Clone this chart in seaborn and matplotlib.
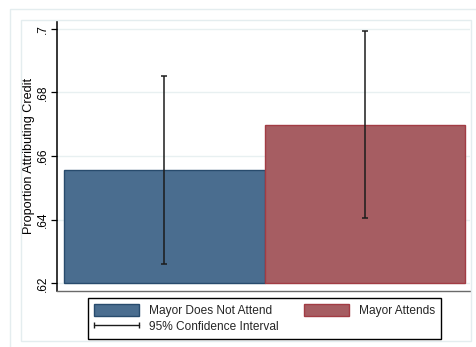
import matplotlib
matplotlib.use("Agg")
import matplotlib.pyplot as plt
from matplotlib.patches import Patch, Rectangle
from matplotlib.lines import Line2D
from matplotlib.legend_handler import HandlerLine2D
import seaborn as sns
import pandas as pd
import numpy as np

# Mean share of respondents attributing credit, by mayor attendance
groups = ["Mayor Does Not Attend", "Mayor Attends"]
means = [0.6556, 0.6698]
ci_low = [0.6261, 0.6404]
ci_high = [0.6851, 0.6992]
base = 0.62
yticks = [0.62, 0.64, 0.66, 0.68, 0.70]
ytick_labels = [".62", ".64", ".66", ".68", ".7"]
ci_label = "95% Confidence Interval"

fill_colors = ["#4A6D8F", "#A65D62"]
edge_colors = ["#284B6D", "#A23C44"]
frame_color = "#E4EDEF"
fs = 8.6

sns.set_style("white")
plt.rcParams["font.family"] = ["Liberation Sans", "DejaVu Sans"]

W, H = 476, 347
fig = plt.figure(figsize=(W / 100, H / 100), dpi=100)
fig.patch.set_facecolor("white")

ax = fig.add_axes([57 / W, 1 - 291 / H, (470 - 57) / W, (291 - 21) / H])

df = pd.DataFrame({"group": groups, "height": np.array(means) - base})
sns.barplot(data=df, x="group", y="height", hue="group", order=groups,
            hue_order=groups, palette=fill_colors, saturation=1, width=1.0,
            errorbar=None, legend=False, bottom=base, ax=ax, zorder=2)
for bar, ec in zip(ax.patches, edge_colors):
    bar.set_edgecolor(ec)
    bar.set_linewidth(1.0)

means_arr = np.array(means)
yerr = np.vstack([means_arr - np.array(ci_low), np.array(ci_high) - means_arr])
ax.errorbar(x=np.arange(len(groups)), y=means_arr, yerr=yerr, fmt="none",
            ecolor="#1c1c1c", elinewidth=1.1, capsize=2.5, capthick=1.1,
            zorder=3)

ax.set_xlim(-0.535, 1.525)
ax.set_ylim(0.6176, 0.7024)
ax.set_xticks([])
ax.set_xlabel("")
ax.set_yticks(yticks)
ax.set_yticklabels(ytick_labels, rotation=90, va="center", fontsize=fs)
ax.tick_params(axis="y", length=4.5, width=0.9, color="black", pad=1.5,
               left=True, labelcolor="black")
ax.set_ylabel("Proportion Attributing Credit", fontsize=9.1, labelpad=1,
              color="black")

ax.yaxis.grid(True, color="#E8F0F1", linewidth=1.0, zorder=0)
ax.xaxis.grid(False)
ax.set_axisbelow(True)
for s in ["top", "right"]:
    ax.spines[s].set_visible(False)
ax.spines["left"].set_color("black")
ax.spines["left"].set_linewidth(1.1)
ax.spines["bottom"].set_color("#6a6a6a")
ax.spines["bottom"].set_linewidth(1.0)

# light outer and inner graph-region frames
fig.add_artist(Rectangle((10 / W, -1), 2, 2 - 9 / H, transform=fig.transFigure,
                         fill=False, edgecolor=frame_color, linewidth=1.0))
fig.add_artist(Rectangle((21 / W, 1 - 341 / H), (471 - 21) / W, (341 - 20) / H,
                         transform=fig.transFigure, fill=False,
                         edgecolor=frame_color, linewidth=1.0))

ci_handle = Line2D([], [], color="#1c1c1c", linewidth=1.0, marker="|",
                   markersize=4, markeredgewidth=1.0)
handles = [Patch(facecolor=fill_colors[0], edgecolor=edge_colors[0]),
           ci_handle,
           Patch(facecolor=fill_colors[1], edgecolor=edge_colors[1])]
labels = [groups[0], ci_label, groups[1]]
leg = fig.legend(handles, labels, loc="center",
                 bbox_to_anchor=(264.5 / W, 1 - 318.5 / H), ncol=2,
                 frameon=True, fancybox=False, edgecolor="black",
                 fontsize=fs, handlelength=3.8, handleheight=1.1,
                 handletextpad=0.85, columnspacing=2.1, borderpad=0.5,
                 labelspacing=0.25, borderaxespad=0,
                 handler_map={ci_handle: HandlerLine2D(numpoints=2,
                                                       marker_pad=0)})
leg.get_frame().set_linewidth(1.0)
leg.get_frame().set_alpha(1)

fig.savefig("out.png", dpi=100)
